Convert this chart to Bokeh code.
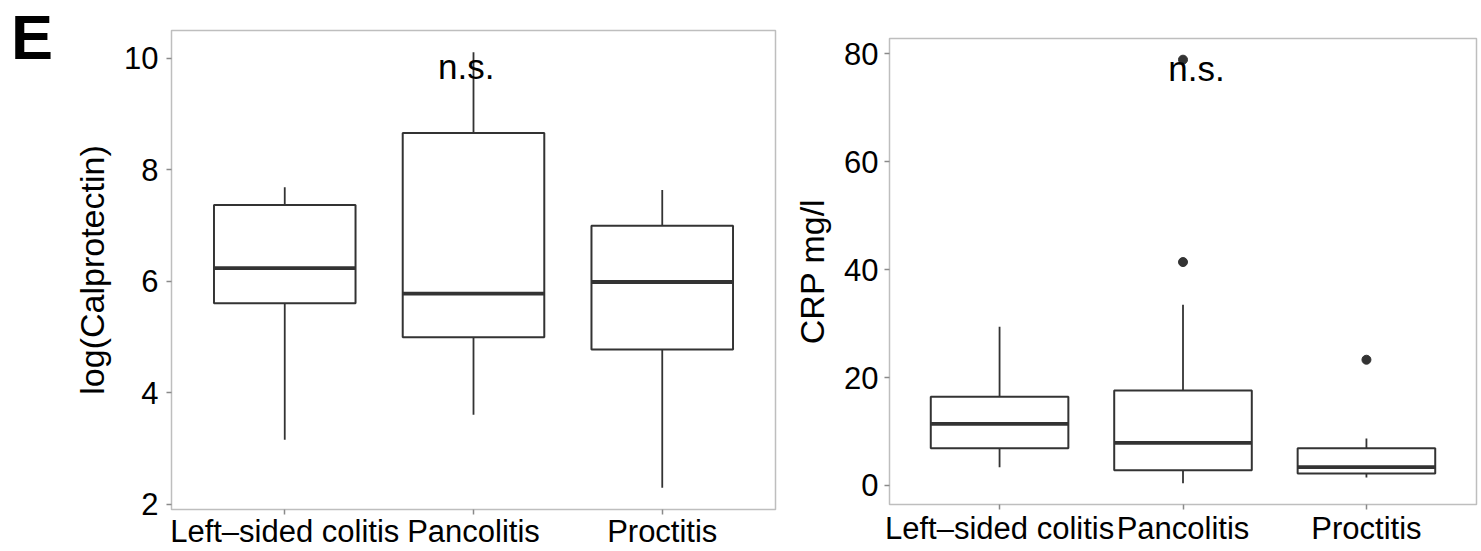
from bokeh.plotting import figure
from bokeh.layouts import row, column
from bokeh.models import ColumnDataSource, Range1d, FixedTicker, Label
from bokeh.core.properties import value
from bokeh.embed import file_html
from bokeh.resources import INLINE

# Disease extent groups
categories = ["Left–sided colitis", "Pancolitis", "Proctitis"]

# log(Calprotectin) box statistics per group
calpro_lower = [3.16, 3.61, 2.30]
calpro_q1 = [5.61, 5.00, 4.78]
calpro_median = [6.24, 5.78, 5.99]
calpro_q3 = [7.37, 8.66, 7.00]
calpro_upper = [7.69, 10.11, 7.64]
calpro_ticks = [2, 4, 6, 8, 10]

# CRP (mg/l) box statistics per group
crp_lower = [3.4, 0.4, 1.5]
crp_q1 = [6.9, 2.8, 2.2]
crp_median = [11.4, 7.9, 3.4]
crp_q3 = [16.45, 17.6, 6.9]
crp_upper = [29.4, 33.5, 8.7]
crp_outlier_group = [2, 2, 3]
crp_outlier_value = [78.9, 41.4, 23.3]
crp_ticks = [0, 20, 40, 60, 80]

FONT = "Liberation Sans"
BOX_COLOR = "#333333"
FRAME_COLOR = "#bebebe"
TICK_COLOR = "#8a8a8a"
BOX_WIDTH = 0.75
HEIGHT = 551


def padded(lo, hi, frac=0.05):
    span = hi - lo
    return lo - frac * span, hi + frac * span


def boxplot(width, border, lower, q1, med, q3, upper, yticks, ylabel,
            out_x=None, out_y=None, tick_standoff=8, xlabel_standoff=1):
    all_vals = list(lower) + list(upper) + (list(out_y) if out_y else [])
    ylo, yhi = padded(min(all_vals), max(all_vals))
    p = figure(width=width, height=HEIGHT, output_backend="svg",
               toolbar_location=None, title=None,
               x_range=Range1d(0.4, 3.6), y_range=Range1d(ylo, yhi),
               min_border_left=border[0], min_border_right=border[1],
               min_border_top=border[2], min_border_bottom=border[3])
    p.background_fill_color = "white"
    p.border_fill_color = "white"
    p.outline_line_color = FRAME_COLOR
    p.outline_line_width = 1.5
    p.xgrid.visible = False
    p.ygrid.visible = False

    xs = list(range(1, len(categories) + 1))
    src = ColumnDataSource(dict(
        x=xs,
        left=[x - BOX_WIDTH / 2 for x in xs],
        right=[x + BOX_WIDTH / 2 for x in xs],
        lower=lower, q1=q1, med=med, q3=q3, upper=upper,
    ))
    # whiskers
    p.segment(x0="x", y0="q3", x1="x", y1="upper", source=src,
              line_color=BOX_COLOR, line_width=1.8)
    p.segment(x0="x", y0="q1", x1="x", y1="lower", source=src,
              line_color=BOX_COLOR, line_width=1.8)
    # boxes
    p.quad(left="left", right="right", bottom="q1", top="q3", source=src,
           fill_color="white", line_color=BOX_COLOR, line_width=2)
    # medians
    p.segment(x0="left", y0="med", x1="right", y1="med", source=src,
              line_color=BOX_COLOR, line_width=3.8)
    if out_x:
        p.scatter(x=out_x, y=out_y, size=9, color=BOX_COLOR)

    xa = p.xaxis[0]
    xa.ticker = FixedTicker(ticks=xs)
    xa.major_label_overrides = {x: c for x, c in zip(xs, categories)}
    ya = p.yaxis[0]
    ya.ticker = FixedTicker(ticks=yticks)
    ya.axis_label = ylabel
    for ax in (xa, ya):
        ax.axis_line_color = None
        ax.major_tick_line_color = TICK_COLOR
        ax.major_tick_line_width = 1.5
        ax.major_tick_in = 0
        ax.major_tick_out = 5
        ax.minor_tick_line_color = None
        ax.major_label_text_font = FONT
        ax.major_label_text_font_size = "31px"
        ax.major_label_text_color = "black"
        ax.axis_label_text_font = FONT
        ax.axis_label_text_font_size = "34px"
        ax.axis_label_text_font_style = "normal"
        ax.axis_label_text_color = "black"
    xa.major_label_standoff = xlabel_standoff
    ya.major_label_standoff = tick_standoff
    ya.axis_label_standoff = 10
    return p


# narrow strip holding the panel letter
LETTER_W = 60
pe = figure(width=LETTER_W, height=HEIGHT, output_backend="svg",
            toolbar_location=None, title=None,
            x_axis_location=None, y_axis_location=None,
            x_range=Range1d(0, LETTER_W), y_range=Range1d(HEIGHT, 0),
            min_border=0)
pe.outline_line_color = None
pe.xgrid.visible = False
pe.ygrid.visible = False
pe.text(x=[10.5], y=[36.5], text=["E"], text_align="left",
        text_baseline="alphabetic", text_font=value(FONT),
        text_font_size="63px", text_font_style="bold", text_color="black")

p1 = boxplot(790 - LETTER_W, (171 - LETTER_W, 15, 30, 41), calpro_lower,
             calpro_q1, calpro_median, calpro_q3, calpro_upper, calpro_ticks,
             "log(Calprotectin)", tick_standoff=8, xlabel_standoff=-1)
p1.add_layout(Label(x=1.962, y=9.85, text="n.s.", text_align="center",
                    text_baseline="alphabetic", text_font=FONT,
                    text_font_size="35px", text_color="black"))

p2 = boxplot(691, (98, 5, 38, 47), crp_lower, crp_q1, crp_median,
             crp_q3, crp_upper, crp_ticks, "CRP mg/l",
             out_x=crp_outlier_group, out_y=crp_outlier_value,
             tick_standoff=6, xlabel_standoff=1)
p2.add_layout(Label(x=2.074, y=77.2, text="n.s.", text_align="center",
                    text_baseline="alphabetic", text_font=FONT,
                    text_font_size="35px", text_color="black"))

layout = row(column(pe), column(p1), column(p2), spacing=0)
open("out.html", "w").write(file_html(layout, INLINE))
